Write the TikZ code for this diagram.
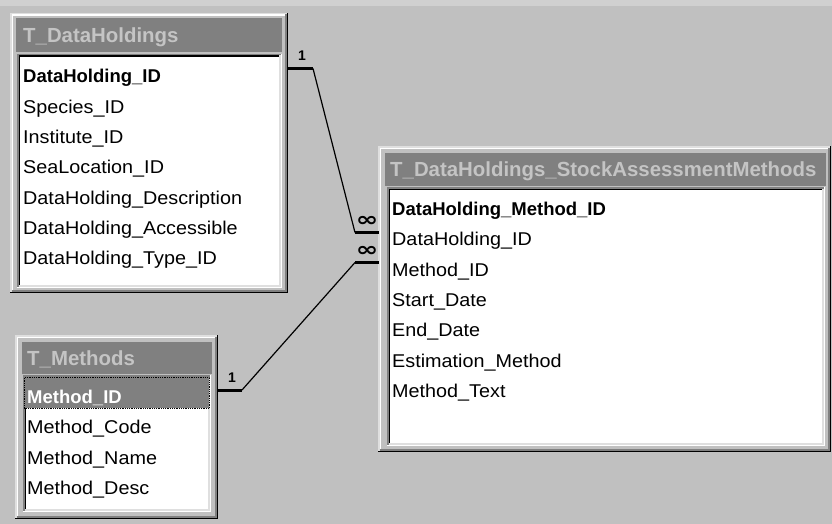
\documentclass[tikz,border=0pt]{standalone}
\usepackage{fontspec}
\setmainfont[FakeStretch=1.07]{Liberation Sans}
\newfontfamily\titlefont{Liberation Sans}
\newfontfamily\symfont{DejaVu Sans}
\definecolor{face}{HTML}{C0C0C0}
\definecolor{dkgray}{HTML}{808080}
\definecolor{hilite}{HTML}{DFDFDF}
\definecolor{titletext}{HTML}{C4C4C4}
\definecolor{topband}{HTML}{D0D0D0}

% raised window border: outer light/black ring, inner white/grey ring
\newcommand\raisedbevel[4]{%
  \draw[hilite,line width=1.5pt] (#1+0.75,#4-1.5) -- (#1+0.75,#2+0.75) -- (#3-1.5,#2+0.75);
  \draw[black,line width=1.5pt] (#1,#4-0.75) -- (#3-0.75,#4-0.75) -- (#3-0.75,#2);
  \draw[white,line width=1.5pt] (#1+2.25,#4-3) -- (#1+2.25,#2+2.25) -- (#3-3,#2+2.25);
  \draw[dkgray,line width=1.5pt] (#1+1.5,#4-2.25) -- (#3-2.25,#4-2.25) -- (#3-2.25,#2+1.5);
}
% sunken list border: outer grey/white ring, inner black/light ring
\newcommand\sunkenbevel[4]{%
  \draw[dkgray,line width=1.5pt] (#1+0.75,#4-1.5) -- (#1+0.75,#2+0.75) -- (#3-1.5,#2+0.75);
  \draw[white,line width=1.5pt] (#1,#4-0.75) -- (#3-0.75,#4-0.75) -- (#3-0.75,#2);
  \draw[black,line width=1.5pt] (#1+2.25,#4-3) -- (#1+2.25,#2+2.25) -- (#3-3,#2+2.25);
  \draw[hilite,line width=1.5pt] (#1+1.5,#4-2.25) -- (#3-2.25,#4-2.25) -- (#3-2.25,#2+1.5);
}

\tikzset{
  panel/.style={anchor=north west, inner sep=0pt, outer sep=0pt, fill=face},
  titlebar/.style={anchor=north west, inner sep=0pt, outer sep=0pt, fill=dkgray},
  listbox/.style={anchor=north west, inner sep=0pt, outer sep=0pt, fill=white},
  field/.style={anchor=base west, inner sep=0pt, font=\fontsize{18.5}{20}\selectfont},
  keyfield/.style={anchor=base west, inner sep=0pt, font=\titlefont\fontsize{18.5}{20}\selectfont\bfseries},
  tabletitle/.style={anchor=base west, inner sep=0pt, text=titletext,
    font=\titlefont\fontsize{20.4}{22}\selectfont\bfseries},
  selrow/.style={anchor=north west, inner sep=0pt, fill=dkgray, draw=black, densely dotted, line width=0.8pt},
  link/.style={line width=1.2pt, black},
  stub/.style={line width=3pt, black},
  onelabel/.style={anchor=base, inner sep=0pt, font=\titlefont\fontsize{14}{14}\selectfont\bfseries},
  manylabel/.style={inner sep=0pt, font=\symfont\bfseries\fontsize{20}{20}\selectfont},
}
\newcommand\wideinf{\scalebox{1.35}[1]{∞}}

\begin{document}
\begin{tikzpicture}[x=1pt,y=-1pt]
\useasboundingbox (0,0) rectangle (832,524);
\fill[face] (0,0) rectangle (832,524);
\fill[topband] (0,0) rectangle (832,6);

% ---------- T_DataHoldings ----------
\node[panel, minimum width=278pt, minimum height=280pt] (dh) at (10,13) {};
\raisedbevel{10}{13}{288}{293}
\node[titlebar, minimum width=266pt, minimum height=34pt] (dh-bar) at (16,18) {};
\node[listbox, minimum width=265pt, minimum height=234pt] (dh-list) at (17,54) {};
\sunkenbevel{17}{54}{282}{288}
\node[tabletitle] (dh-title) at (23,43) {T\_DataHoldings};
\node[keyfield] (dh-f1) at (23,83.0)  {DataHolding\_ID};
\node[field]    (dh-f2) at (23,113.3) {Species\_ID};
\node[field]    (dh-f3) at (23,143.6) {Institute\_ID};
\node[field]    (dh-f4) at (23,173.9) {SeaLocation\_ID};
\node[field]    (dh-f5) at (23,204.2) {DataHolding\_Description};
\node[field]    (dh-f6) at (23,234.5) {DataHolding\_Accessible};
\node[field]    (dh-f7) at (23,264.8) {DataHolding\_Type\_ID};

% ---------- T_Methods ----------
\node[panel, minimum width=203pt, minimum height=184pt] (me) at (15,335) {};
\raisedbevel{15}{335}{218}{519}
\node[titlebar, minimum width=190pt, minimum height=32pt] (me-bar) at (22,342) {};
\node[listbox, minimum width=188pt, minimum height=137pt] (me-list) at (23,375) {};
\sunkenbevel{23}{375}{211}{512}
\node[tabletitle] (me-title) at (27,365) {T\_Methods};
\node[selrow, minimum width=185pt, minimum height=31pt] (me-sel) at (24,377) {};
\node[keyfield, text=white] (me-f1) at (27,403.0) {Method\_ID};
\node[field] (me-f2) at (27,433.5) {Method\_Code};
\node[field] (me-f3) at (27,464.0) {Method\_Name};
\node[field] (me-f4) at (27,494.5) {Method\_Desc};

% ---------- T_DataHoldings_StockAssessmentMethods ----------
\node[panel, minimum width=453pt, minimum height=306pt] (sa) at (378,146) {};
\raisedbevel{378}{146}{831}{452}
\node[titlebar, minimum width=441pt, minimum height=33pt] (sa-bar) at (385,153) {};
\node[listbox, minimum width=438pt, minimum height=259pt] (sa-list) at (387,187) {};
\sunkenbevel{387}{187}{825}{446}
\node[tabletitle] (sa-title) at (390,176) {T\_DataHoldings\_StockAssessmentMethods};
\node[keyfield] (sa-f1) at (392,215.2) {DataHolding\_Method\_ID};
\node[field]    (sa-f2) at (392,245.6) {DataHolding\_ID};
\node[field]    (sa-f3) at (392,276.0) {Method\_ID};
\node[field]    (sa-f4) at (392,306.4) {Start\_Date};
\node[field]    (sa-f5) at (392,336.8) {End\_Date};
\node[field]    (sa-f6) at (392,367.2) {Estimation\_Method};
\node[field]    (sa-f7) at (392,397.6) {Method\_Text};

% ---------- relationships ----------
\coordinate (r1a) at (288,68.5);
\coordinate (r1b) at (313,68.5);
\coordinate (r1c) at (355,232.5);
\coordinate (r1d) at (379,232.5);
\draw[stub] (r1a) -- (r1b);
\draw[link] (r1b) -- (r1c);
\draw[stub] (r1c) -- (r1d);
\node[onelabel] (r1one) at (302,61) {1};
\node[manylabel] (r1many) at (367,221) {\wideinf};

\coordinate (r2a) at (217,390);
\coordinate (r2b) at (242,390);
\coordinate (r2c) at (355,262.5);
\coordinate (r2d) at (379,262.5);
\draw[stub] (r2a) -- (r2b);
\draw[link] (r2b) -- (r2c);
\draw[stub] (r2c) -- (r2d);
\node[onelabel] (r2one) at (232,382) {1};
\node[manylabel] (r2many) at (367,251) {\wideinf};
\end{tikzpicture}
\end{document}
